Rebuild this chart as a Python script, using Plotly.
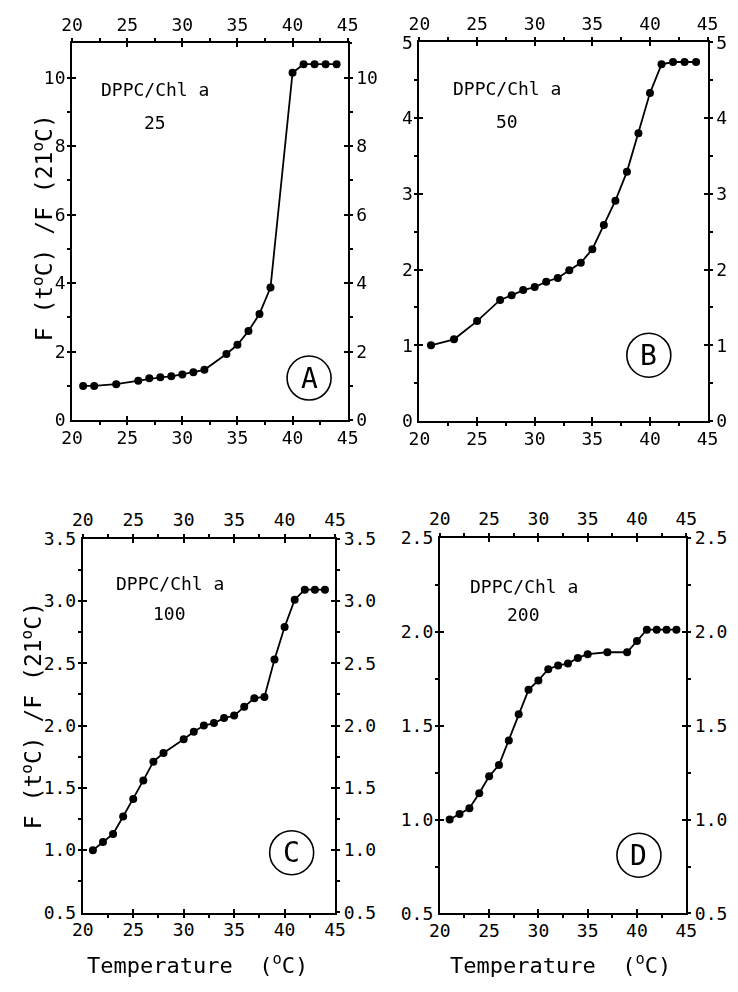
import plotly.graph_objects as go

# ---------------- data ----------------
A_x = [21, 22, 24, 26, 27, 28, 29, 30, 31, 32, 34, 35, 36, 37, 38, 40, 41, 42, 43, 44]
A_y = [1.0, 1.0, 1.05, 1.15, 1.22, 1.25, 1.28, 1.33, 1.40, 1.47, 1.93, 2.2, 2.6, 3.1, 3.87,
       10.14, 10.39, 10.39, 10.39, 10.39]

B_x = [21, 23, 25, 27, 28, 29, 30, 31, 32, 33, 34, 35, 36, 37, 38, 39, 40, 41, 42, 43, 44]
B_y = [1.0, 1.08, 1.32, 1.6, 1.66, 1.73, 1.77, 1.84, 1.89, 1.99, 2.09, 2.27, 2.59, 2.91, 3.29,
       3.8, 4.33, 4.71, 4.74, 4.74, 4.74]

C_x = [21, 22, 23, 24, 25, 26, 27, 28, 30, 31, 32, 33, 34, 35, 36, 37, 38, 39, 40, 41, 42, 43, 44]
C_y = [1.0, 1.065, 1.13, 1.27, 1.41, 1.56, 1.71, 1.78, 1.89, 1.95, 2.0, 2.02, 2.06, 2.08, 2.15,
       2.22, 2.23, 2.53, 2.79, 3.01, 3.09, 3.09, 3.09]

D_x = [21, 22, 23, 24, 25, 26, 27, 28, 29, 30, 31, 32, 33, 34, 35, 37, 39, 40, 41, 42, 43, 44]
D_y = [1.0, 1.03, 1.06, 1.14, 1.23, 1.29, 1.42, 1.56, 1.69, 1.74, 1.80, 1.82, 1.83, 1.86, 1.88,
       1.89, 1.89, 1.95, 2.01, 2.01, 2.01, 2.01]

ratios = ["25", "50", "100", "200"]
letters = ["A", "B", "C", "D"]
label_text = "DPPC/Chl a"
x_title = "Temperature  (<sup>o</sup>C)"
y_title = "F (t<sup>o</sup>C) /F (21<sup>o</sup>C)"

# ---------------- layout / styling ----------------
W, H = 738, 992
FONT = "DejaVu Sans Mono"
boxes = [  # pixel boxes: left, right, top, bottom
    (63, 347, 33, 418),
    (421, 718, 32, 419),
    (74, 334, 539, 921),
    (442, 696, 538, 922),
]
yranges = [(0, 11), (0, 5), (0.5, 3.5), (0.5, 2.5)]
ydticks = [(2, 1), (1, 0.5), (0.5, 0.25), (0.5, 0.25)]
yfmts = ["d", "d", ".1f", ".1f"]
xrange_ = (20, 45)
label_pos = [(27.5, 9.65, 8.7), (27.6, 4.39, 3.95), (28.6, 3.14, 2.9), (28.5, 2.24, 2.09)]
circle_pos = [(41.5, 1.23), (39.9, 0.87), (40.7, 0.98), (40.2, 0.81)]

series = [(A_x, A_y), (B_x, B_y), (C_x, C_y), (D_x, D_y)]

fig = go.Figure()
layout = dict(
    width=W, height=H,
    margin=dict(l=0, r=0, t=0, b=0),
    paper_bgcolor="white", plot_bgcolor="white",
    showlegend=False,
    font=dict(family=FONT, color="black", size=18),
)
annotations = []
shapes = []

for i in range(4):
    n = i + 1
    m = i + 5
    l, r, t, b = boxes[i]
    xd = [l / W, r / W]
    yd = [1 - b / H, 1 - t / H]
    xs, ys = series[i]
    fig.add_trace(go.Scatter(
        x=xs, y=ys, mode="lines+markers",
        line=dict(color="black", width=1.8),
        marker=dict(color="black", size=8),
        xaxis=f"x{n}", yaxis=f"y{n}", hoverinfo="x+y"))
    # invisible copy for the top/right label axes
    fig.add_trace(go.Scatter(
        x=xs, y=ys, mode="markers", opacity=0, hoverinfo="skip",
        xaxis=f"x{m}", yaxis=f"y{m}"))

    ymaj, ymin = ydticks[i]
    common_x = dict(range=list(xrange_), dtick=5, tick0=20, showgrid=False, zeroline=False,
                    tickfont=dict(family=FONT, size=18, color="black"),
                    ticklen=4, tickwidth=1.5, tickcolor="black",
                    minor=dict(dtick=2.5, tick0=20, ticklen=3, tickcolor="black",
                               tickwidth=1.5, showgrid=False))
    common_y = dict(range=list(yranges[i]), dtick=ymaj, tick0=0, showgrid=False, zeroline=False,
                    tickformat=yfmts[i],
                    tickfont=dict(family=FONT, size=18, color="black"),
                    ticklen=4, tickwidth=1.5, tickcolor="black",
                    minor=dict(dtick=ymin, tick0=0, ticklen=3, tickcolor="black",
                               tickwidth=1.5, showgrid=False))
    layout[f"xaxis{n}"] = dict(domain=xd, anchor=f"y{n}", side="bottom",
                               showline=True, linecolor="black", linewidth=2,
                               mirror="ticks", ticks="inside", ticklabelstandoff=0,
                               **common_x)
    layout[f"yaxis{n}"] = dict(domain=yd, anchor=f"x{n}", side="left",
                               showline=True, linecolor="black", linewidth=2,
                               mirror="ticks", ticks="inside", ticklabelstandoff=1,
                               **common_y)
    layout[f"xaxis{m}"] = dict(overlaying=f"x{n}", anchor=f"y{n}", side="top",
                               showline=False, ticks="outside", ticklabelstandoff=0,
                               **common_x)
    layout[f"yaxis{m}"] = dict(overlaying=f"y{n}", anchor=f"x{n}", side="right",
                               showline=False, ticks="outside", ticklabelstandoff=0,
                               **common_y)

    lx, ly1, ly2 = label_pos[i]
    annotations.append(dict(x=lx, y=ly1, xref=f"x{n}", yref=f"y{n}", text=label_text,
                            xanchor="center", yanchor="middle",
                            showarrow=False, font=dict(family=FONT, size=18, color="black")))
    annotations.append(dict(x=lx, y=ly2, xref=f"x{n}", yref=f"y{n}", text=ratios[i],
                            xanchor="center", yanchor="middle",
                            showarrow=False, font=dict(family=FONT, size=18, color="black")))
    cx, cy = circle_pos[i]
    shapes.append(dict(type="circle", xref=f"x{n}", yref=f"y{n}",
                       xsizemode="pixel", ysizemode="pixel", xanchor=cx, yanchor=cy,
                       x0=-22, x1=22, y0=-22, y1=22,
                       line=dict(color="black", width=1.6)))
    annotations.append(dict(x=cx, y=cy, xref=f"x{n}", yref=f"y{n}", text=letters[i],
                            xanchor="center", yanchor="middle",
                            showarrow=False,
                            font=dict(family="DejaVu Sans Mono", size=28, color="black")))

# axis titles
for cxp in (192, 566):
    annotations.append(dict(x=cxp / W, y=1 - 974 / H, xref="paper", yref="paper",
                            xanchor="center", yanchor="middle",
                            text=x_title, showarrow=False,
                            font=dict(family=FONT, size=22, color="black")))
for (xp, yp) in ((33, 222), (21, 720)):
    annotations.append(dict(x=xp / W, y=1 - yp / H, xref="paper", yref="paper",
                            xanchor="center", yanchor="middle",
                            text=y_title, showarrow=False, textangle=-90,
                            font=dict(family=FONT, size=23, color="black")))

layout["annotations"] = annotations
layout["shapes"] = shapes
fig.update_layout(**layout)
fig.write_html("out.html")
